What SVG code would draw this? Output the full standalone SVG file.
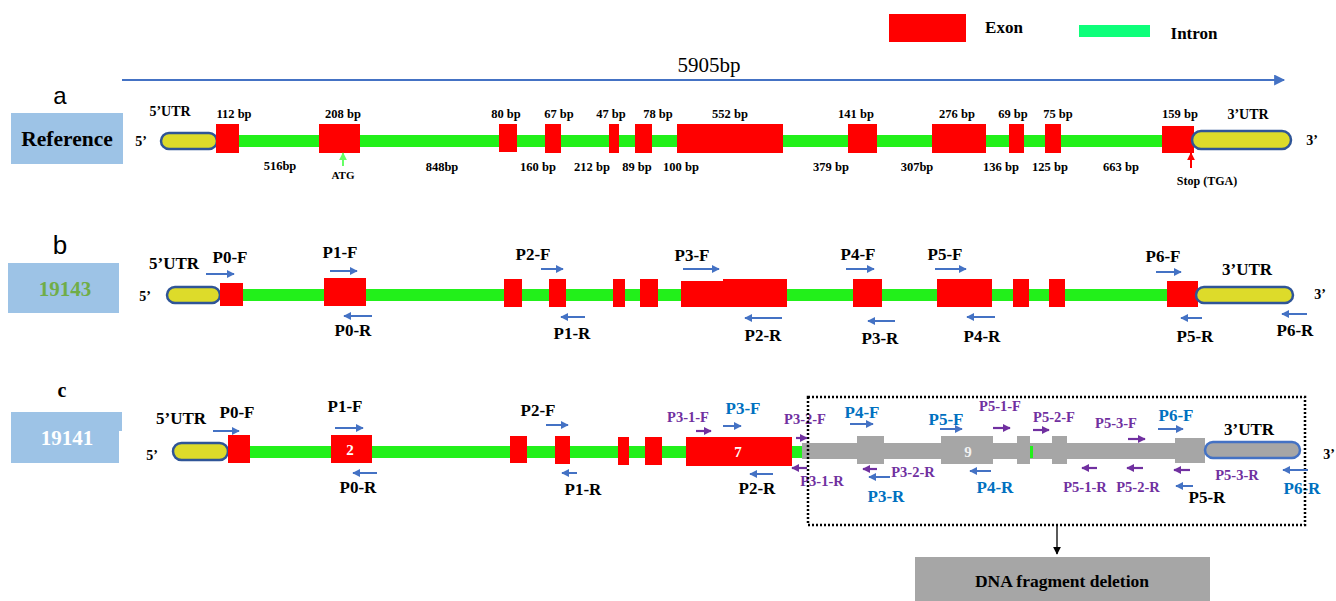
<svg xmlns="http://www.w3.org/2000/svg" width="1336" height="601" viewBox="0 0 1336 601">
  <style>
    text { font-family: "Liberation Serif", "Times New Roman", serif; font-weight: bold; text-anchor: middle; dominant-baseline: central; }
    .bp { font-size: 12.5px; fill: #000; }
    .lbl { font-size: 17px; fill: #000; }
    .end { font-size: 14px; fill: #000; }
    .blue { font-size: 17px; fill: #0070C0; }
    .pur { font-size: 14.5px; fill: #7030A0; }
    .exon { fill: #FF0000; }
    .intron { fill: #22F01A; }
    .gray { fill: #A6A6A6; }
    .utr { fill: #DDDB2A; stroke: #2F5597; stroke-width: 2.5; }
    .utrg { fill: #A6A6A6; stroke: #4472C4; stroke-width: 2.5; }
    .tag { fill: #9DC3E6; }
    .pb { stroke: #4472C4; stroke-width: 2; fill: none; marker-end: url(#hb); }
    .pp { stroke: #7030A0; stroke-width: 2.2; fill: none; marker-end: url(#hp); }
  </style>
  <defs>
    <marker id="hb" viewBox="0 0 10 10" refX="9" refY="5" markerWidth="8" markerHeight="8" markerUnits="userSpaceOnUse" orient="auto">
      <path d="M0,0 L10,5 L0,10 z" fill="#4472C4"/>
    </marker>
    <marker id="hp" viewBox="0 0 10 10" refX="9" refY="5" markerWidth="8" markerHeight="8" markerUnits="userSpaceOnUse" orient="auto">
      <path d="M0,0 L10,5 L0,10 z" fill="#7030A0"/>
    </marker>
    <marker id="hbig" viewBox="0 0 10 10" refX="9" refY="5" markerWidth="12" markerHeight="11" markerUnits="userSpaceOnUse" orient="auto">
      <path d="M0,0 L10,5 L0,10 z" fill="#4472C4"/>
    </marker>
    <marker id="hk" viewBox="0 0 10 10" refX="9" refY="5" markerWidth="8" markerHeight="8" markerUnits="userSpaceOnUse" orient="auto">
      <path d="M0,0 L10,5 L0,10 z" fill="#000"/>
    </marker>
    <marker id="hr" viewBox="0 0 10 10" refX="9" refY="5" markerWidth="8" markerHeight="8" markerUnits="userSpaceOnUse" orient="auto">
      <path d="M0,0 L10,5 L0,10 z" fill="#FF0000"/>
    </marker>
    <marker id="hg" viewBox="0 0 10 10" refX="9" refY="5" markerWidth="8" markerHeight="8" markerUnits="userSpaceOnUse" orient="auto">
      <path d="M0,0 L10,5 L0,10 z" fill="#66FF66"/>
    </marker>
  </defs>

  <!-- legend -->
  <g id="legend-exon">
    <rect x="889" y="14" width="77" height="28" class="exon"/>
    <text x="1004" y="27" class="lbl">Exon</text>
  </g>
  <g id="legend-intron">
    <rect x="1079" y="25" width="71" height="12" fill="#0DFF7A"/>
    <text x="1194" y="33" class="lbl">Intron</text>
  </g>
  <g id="length">
    <text x="709" y="65" style="font-weight:normal;font-size:21px">5905bp</text>
  </g>

  <!-- a: reference gene model -->
  <g id="a-title">
    <text x="60" y="95" style="font-family:'Liberation Sans',Arial,sans-serif;font-weight:normal;font-size:24px">a</text>
    <rect x="11" y="113" width="112" height="51" class="tag"/>
    <text x="67" y="139" style="font-size:21.5px">Reference</text>
  </g>
  <g id="a-backbone">
    <rect x="217" y="135" width="975" height="12" class="intron"/>
    <text x="141" y="141" class="end">5’</text>
    <text x="1312" y="140" class="end">3’</text>
  </g>
  <g id="a-utr5">
    <rect x="161" y="133" width="56" height="16" rx="8" class="utr"/>
    <text x="170" y="111" style="font-size:14px">5’UTR</text>
  </g>
  <g id="a-exons">
    <rect x="216" y="124" width="23" height="29" class="exon"/>
    <rect x="319" y="124" width="41" height="29" class="exon"/>
    <rect x="499" y="124" width="18" height="28" class="exon"/>
    <rect x="545" y="124" width="16" height="29" class="exon"/>
    <rect x="609" y="124" width="10" height="29" class="exon"/>
    <rect x="635" y="124" width="17" height="29" class="exon"/>
    <rect x="677" y="124" width="106" height="29" class="exon"/>
    <rect x="848" y="124" width="29" height="29" class="exon"/>
    <rect x="932" y="124" width="54" height="29" class="exon"/>
    <rect x="1009" y="124" width="15" height="29" class="exon"/>
    <rect x="1045" y="124" width="16" height="29" class="exon"/>
    <rect x="1162" y="126" width="32" height="27" class="exon"/>
  </g>
  <g id="a-utr3">
    <rect x="1192" y="131" width="99" height="18" rx="9" class="utr"/>
    <text x="1248" y="114" style="font-size:14px">3’UTR</text>
  </g>
  <g id="a-exon-sizes">
    <text x="234" y="114" class="bp">112 bp</text>
    <text x="343" y="114" class="bp">208 bp</text>
    <text x="506" y="114" class="bp">80 bp</text>
    <text x="559" y="114" class="bp">67 bp</text>
    <text x="611" y="114" class="bp">47 bp</text>
    <text x="658" y="114" class="bp">78 bp</text>
    <text x="730" y="114" class="bp">552 bp</text>
    <text x="856" y="114" class="bp">141 bp</text>
    <text x="957" y="114" class="bp">276 bp</text>
    <text x="1013" y="114" class="bp">69 bp</text>
    <text x="1058" y="114" class="bp">75 bp</text>
    <text x="1180" y="114" class="bp">159 bp</text>
  </g>
  <g id="a-intron-sizes">
    <text x="280" y="166" class="bp">516bp</text>
    <text x="442" y="167" class="bp">848bp</text>
    <text x="538" y="167" class="bp">160 bp</text>
    <text x="592" y="167" class="bp">212 bp</text>
    <text x="637" y="167" class="bp">89 bp</text>
    <text x="681" y="167" class="bp">100 bp</text>
    <text x="831" y="167" class="bp">379 bp</text>
    <text x="917" y="167" class="bp">307bp</text>
    <text x="1001" y="167" class="bp">136 bp</text>
    <text x="1050" y="167" class="bp">125 bp</text>
    <text x="1121" y="167" class="bp">663 bp</text>
  </g>
  <g id="a-sites">
    <text x="343" y="175" style="font-size:11px">ATG</text>
    <text x="1207" y="181" style="font-size:12px">Stop (TGA)</text>
  </g>

  <!-- b: line 19143 -->
  <g id="b-title">
    <text x="60" y="245" style="font-family:'Liberation Sans',Arial,sans-serif;font-weight:normal;font-size:26px">b</text>
    <rect x="8" y="263" width="111" height="50" class="tag"/>
    <text x="65" y="289" style="font-size:21px;fill:#70AD47">19143</text>
  </g>
  <g id="b-backbone">
    <rect x="220" y="289" width="978" height="12" class="intron"/>
    <text x="145" y="296" class="end">5’</text>
    <text x="1320" y="294" class="end">3’</text>
  </g>
  <g id="b-utr5">
    <rect x="167" y="287" width="53" height="16" rx="8" class="utr"/>
    <text x="174" y="263" class="lbl">5’UTR</text>
  </g>
  <g id="b-exons">
    <rect x="220" y="283" width="23" height="23" class="exon"/>
    <rect x="324" y="278" width="42" height="28" class="exon"/>
    <rect x="504" y="279" width="18" height="28" class="exon"/>
    <rect x="549" y="279" width="17" height="28" class="exon"/>
    <rect x="613" y="279" width="12" height="28" class="exon"/>
    <rect x="640" y="279" width="18" height="28" class="exon"/>
    <rect x="681" y="281" width="43" height="26" class="exon"/>
    <rect x="723" y="279" width="64" height="28" class="exon"/>
    <rect x="853" y="279" width="29" height="28" class="exon"/>
    <rect x="937" y="279" width="55" height="28" class="exon"/>
    <rect x="1013" y="279" width="16" height="28" class="exon"/>
    <rect x="1049" y="279" width="16" height="28" class="exon"/>
    <rect x="1167" y="281" width="31" height="26" class="exon"/>
  </g>
  <g id="b-utr3">
    <rect x="1196" y="287" width="97" height="16" rx="8" class="utr"/>
    <text x="1247" y="269" class="lbl">3’UTR</text>
  </g>
  <g id="b-primers">
    <text x="230" y="257" class="lbl">P0-F</text>
    <text x="340" y="252" class="lbl">P1-F</text>
    <text x="353" y="330" class="lbl">P0-R</text>
    <text x="533" y="254" class="lbl">P2-F</text>
    <text x="572" y="333" class="lbl">P1-R</text>
    <text x="692" y="255" class="lbl">P3-F</text>
    <text x="763" y="335" class="lbl">P2-R</text>
    <text x="858" y="254" class="lbl">P4-F</text>
    <text x="880" y="338" class="lbl">P3-R</text>
    <text x="945" y="254" class="lbl">P5-F</text>
    <text x="982" y="336" class="lbl">P4-R</text>
    <text x="1163" y="256" class="lbl">P6-F</text>
    <text x="1195" y="336" class="lbl">P5-R</text>
    <text x="1295" y="330" class="lbl">P6-R</text>
  </g>

  <!-- c: line 19141 with the deleted region -->
  <g id="c-title">
    <text x="62" y="390" style="font-size:20px">c</text>
    <polygon points="11,412 122,412 122,431 119,431 119,463 11,463" class="tag"/>
    <text x="67" y="438" style="font-size:21px;fill:#fff">19141</text>
  </g>
  <g id="c-backbone">
    <rect x="228" y="446" width="576" height="12" class="intron"/>
    <rect x="802" y="443" width="403" height="16" class="gray"/>
    <rect x="1030" y="446" width="3" height="12" class="intron"/>
    <text x="152" y="455" class="end">5’</text>
    <text x="1329" y="454" class="end">3’</text>
  </g>
  <g id="c-utr5">
    <rect x="173" y="443" width="55" height="17" rx="8.5" class="utr"/>
    <text x="181" y="418" class="lbl">5’UTR</text>
  </g>
  <g id="c-exons">
    <rect x="228" y="435" width="22" height="28" class="exon"/>
    <rect x="331" y="435" width="41" height="28" class="exon"/>
    <text x="350" y="450" style="font-size:15px;fill:#fff">2</text>
    <rect x="510" y="436" width="17" height="27" class="exon"/>
    <rect x="555" y="436" width="15" height="28" class="exon"/>
    <rect x="618" y="437" width="11" height="28" class="exon"/>
    <rect x="645" y="437" width="17" height="28" class="exon"/>
    <rect x="686" y="437" width="106" height="29" class="exon"/>
    <text x="738" y="452" style="font-size:15px;fill:#fff">7</text>
  </g>
  <g id="c-deleted-exons">
    <rect x="857" y="436" width="27" height="28" class="gray"/>
    <rect x="941" y="436" width="52" height="28" class="gray"/>
    <text x="968" y="452" style="font-size:15px;fill:#f2f2f2">9</text>
    <rect x="1017" y="436" width="13" height="28" class="gray"/>
    <rect x="1052" y="436" width="15" height="28" class="gray"/>
    <rect x="1175" y="438" width="30" height="25" class="gray"/>
  </g>
  <g id="c-utr3">
    <rect x="1205" y="442" width="95" height="16" rx="8" class="utrg"/>
    <text x="1249" y="429" class="lbl">3’UTR</text>
  </g>
  <g id="c-primers">
    <text x="237" y="412" class="lbl">P0-F</text>
    <text x="345" y="406" class="lbl">P1-F</text>
    <text x="358" y="487" class="lbl">P0-R</text>
    <text x="538" y="410" class="lbl">P2-F</text>
    <text x="583" y="489" class="lbl">P1-R</text>
    <text x="688" y="417" class="pur">P3-1-F</text>
    <text x="743" y="408" class="blue">P3-F</text>
    <text x="757" y="488" class="lbl">P2-R</text>
    <text x="805" y="419" class="pur">P3-2-F</text>
    <text x="822" y="481" class="pur">P3-1-R</text>
    <text x="862" y="412" class="blue">P4-F</text>
    <text x="913" y="472" class="pur">P3-2-R</text>
    <text x="886" y="496" class="blue">P3-R</text>
    <text x="946" y="419" class="blue">P5-F</text>
    <text x="995" y="487" class="blue">P4-R</text>
    <text x="1000" y="406" class="pur">P5-1-F</text>
    <text x="1054" y="417" class="pur">P5-2-F</text>
    <text x="1085" y="487" class="pur">P5-1-R</text>
    <text x="1116" y="423" class="pur">P5-3-F</text>
    <text x="1138" y="487" class="pur">P5-2-R</text>
    <text x="1176" y="415" class="blue">P6-F</text>
    <text x="1237" y="475" class="pur">P5-3-R</text>
    <text x="1207" y="497" class="lbl">P5-R</text>
    <text x="1302" y="488" class="blue">P6-R</text>
  </g>
  <g id="c-deletion-frame">
    <rect x="808" y="397" width="497" height="128" fill="none" stroke="#000" stroke-width="2.5" stroke-dasharray="2 2"/>
  </g>
  <g id="c-deletion-note">
    <rect x="915" y="557" width="295" height="50" class="gray"/>
    <text x="1062" y="581" style="font-size:17.5px;fill:#000">DNA fragment deletion</text>
  </g>

  <!-- connectors -->
  <g id="connectors">
    <line x1="122" y1="80" x2="1284" y2="80" stroke="#4472C4" stroke-width="2" marker-end="url(#hbig)"/>
    <line x1="343" y1="166" x2="343" y2="153" stroke="#66FF66" stroke-width="2" marker-end="url(#hg)"/>
    <line x1="1191" y1="168" x2="1191" y2="153" stroke="#FF0000" stroke-width="2" marker-end="url(#hr)"/>
    <line x1="1057" y1="526" x2="1057" y2="554" stroke="#000" stroke-width="1.3" marker-end="url(#hk)"/>

    <!-- b primers -->
    <line x1="206" y1="274" x2="234" y2="274" class="pb"/>
    <line x1="330" y1="271" x2="357" y2="271" class="pb"/>
    <line x1="372" y1="316" x2="344" y2="316" class="pb"/>
    <line x1="541" y1="269" x2="563" y2="269" class="pb"/>
    <line x1="585" y1="317" x2="561" y2="317" class="pb"/>
    <line x1="683" y1="269" x2="719" y2="269" class="pb"/>
    <line x1="782" y1="318" x2="745" y2="318" class="pb"/>
    <line x1="846" y1="269" x2="874" y2="269" class="pb"/>
    <line x1="895" y1="321" x2="868" y2="321" class="pb"/>
    <line x1="935" y1="269" x2="966" y2="269" class="pb"/>
    <line x1="995" y1="317" x2="967" y2="317" class="pb"/>
    <line x1="1156" y1="272" x2="1181" y2="272" class="pb"/>
    <line x1="1202" y1="318" x2="1181" y2="318" class="pb"/>
    <line x1="1307" y1="314" x2="1282" y2="314" class="pb"/>

    <!-- c primers -->
    <line x1="213" y1="431" x2="239" y2="431" class="pb"/>
    <line x1="335" y1="428" x2="363" y2="428" class="pb"/>
    <line x1="377" y1="473" x2="353" y2="473" class="pb"/>
    <line x1="546" y1="425" x2="568" y2="425" class="pb"/>
    <line x1="577" y1="473" x2="562" y2="473" class="pb"/>
    <line x1="696" y1="431" x2="711" y2="431" class="pp"/>
    <line x1="723" y1="426" x2="741" y2="426" class="pb"/>
    <line x1="773" y1="474" x2="750" y2="474" class="pb"/>
    <line x1="796" y1="438" x2="807" y2="438" class="pp"/>
    <line x1="807" y1="468" x2="792" y2="468" class="pp"/>
    <line x1="850" y1="424" x2="873" y2="424" class="pb"/>
    <line x1="877" y1="469" x2="863" y2="469" class="pp"/>
    <line x1="890" y1="477" x2="869" y2="477" class="pb"/>
    <line x1="940" y1="429" x2="962" y2="429" class="pb"/>
    <line x1="991" y1="471" x2="970" y2="471" class="pb"/>
    <line x1="993" y1="428" x2="1010" y2="428" class="pp"/>
    <line x1="1033" y1="430" x2="1049" y2="430" class="pp"/>
    <line x1="1097" y1="468" x2="1082" y2="468" class="pp"/>
    <line x1="1128" y1="439" x2="1145" y2="439" class="pp"/>
    <line x1="1143" y1="468" x2="1127" y2="468" class="pp"/>
    <line x1="1158" y1="429" x2="1183" y2="429" class="pb"/>
    <line x1="1190" y1="470" x2="1174" y2="470" class="pp"/>
    <line x1="1193" y1="486" x2="1176" y2="486" class="pb"/>
    <line x1="1308" y1="470" x2="1283" y2="470" class="pb"/>
  </g>
</svg>
